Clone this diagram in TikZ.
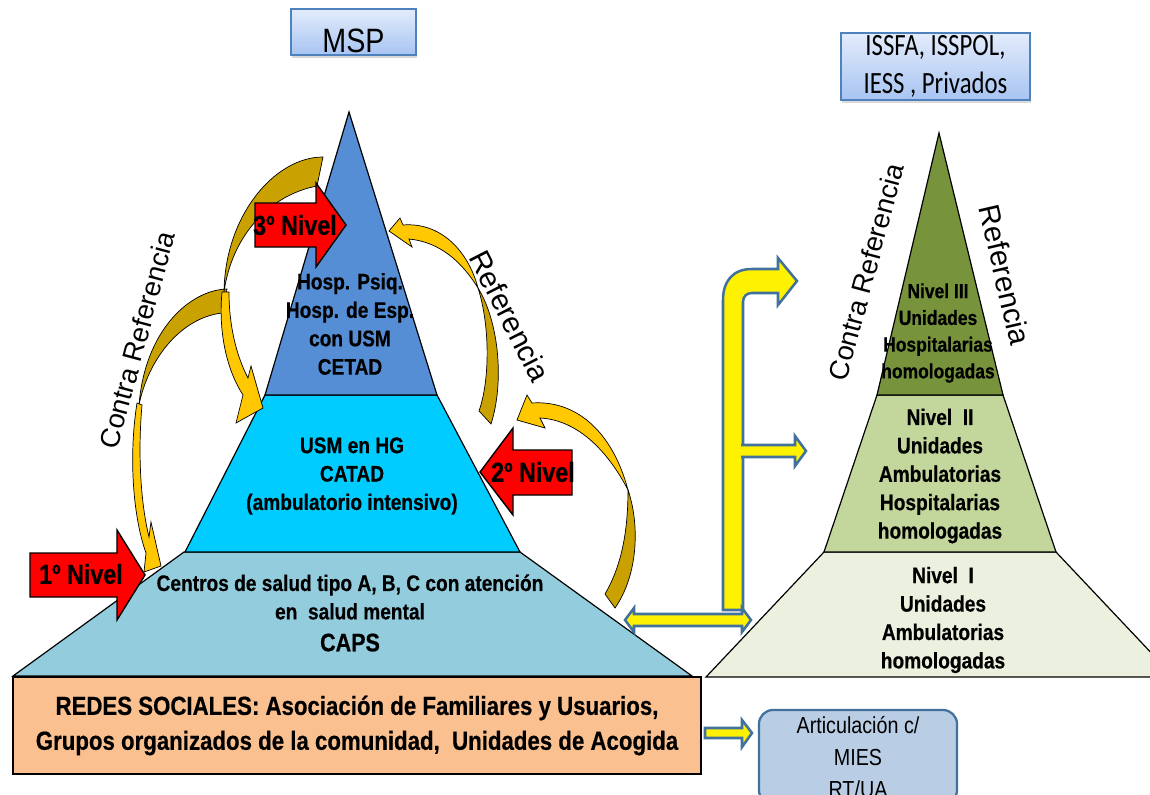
\documentclass[tikz,border=0pt]{standalone}
\usepackage{fontspec}
\setmainfont{Liberation Sans}
\newfontfamily\narrowsf[FakeStretch=0.85, BoldFeatures={FakeBold=0.5}]{Liberation Sans}
\newfontfamily\calibsf[FakeStretch=0.8]{Carlito}
\usetikzlibrary{shadows}
\definecolor{topblue}{HTML}{558ED5}
\definecolor{midcyan}{HTML}{00CCFF}
\definecolor{lowblue}{HTML}{93CDDD}
\definecolor{topgreen}{HTML}{77933C}
\definecolor{midgreen}{HTML}{C3D69B}
\definecolor{lowgreen}{HTML}{EBF1DE}
\definecolor{peach}{HTML}{FAC090}
\definecolor{artblue}{HTML}{B9CDE5}
\definecolor{edgeblue}{HTML}{4F81BD}
\definecolor{steel}{HTML}{41719C}
\definecolor{hdrtop}{HTML}{E3ECFB}
\definecolor{hdrbot}{HTML}{A7C4F2}
\definecolor{darkgold}{HTML}{C9A100}
\definecolor{brightgold}{HTML}{FFC800}

\begin{document}
\begin{tikzpicture}[x=0.025cm, y=-0.025cm,
  tier/.style={draw=black, line width=0.85pt, line join=miter},
  lvltxt/.style={font=\narrowsf\bfseries\fontsize{16}{20.2}\selectfont, align=center, inner sep=0pt},
  hdrbox/.style={draw=edgeblue, line width=1pt, top color=hdrtop, bottom color=hdrbot,
    drop shadow={opacity=0.3, shadow xshift=0.6pt, shadow yshift=-1.8pt}},
  redesbox/.style={draw=black, line width=1pt, fill=peach, align=center, inner sep=0pt,
    minimum width=17.2cm, minimum height=2.425cm,
    font=\narrowsf\bfseries\fontsize{18.6}{24.8}\selectfont},
  artbox/.style={draw=steel, line width=1.6pt, fill=artblue, rounded corners=0.35cm,
    align=center, inner sep=0pt, minimum width=4.95cm, minimum height=2.35cm,
    font=\narrowsf\fontsize{16.5}{22.7}\selectfont},
  redarrow/.style={draw=black, fill=red, line width=1pt, line join=miter},
  redtxt/.style={font=\narrowsf\bfseries\fontsize{19.5}{22}\selectfont, inner sep=0pt},
  yarrow/.style={draw=steel, fill=yellow, line width=1.8pt, line join=miter},
  backarc/.style={draw=black, line width=0.5pt, fill=darkgold},
  frontarc/.style={draw=black, line width=0.5pt, fill=brightgold},
  rotlbl/.style={font=\fontsize{19.5}{22}\selectfont, inner sep=0pt}]
\useasboundingbox (0,0) rectangle (1150,795);

% apexes
\coordinate (apexL) at (349,112);
\coordinate (apexR) at (939,133);

% MSP pyramid
\draw[tier, fill=lowblue] (13,676) -- (184,552) -- (520,552) -- (692,676) -- cycle;
\draw[tier, fill=midcyan] (185,552) -- (265,395) -- (437,395) -- (520,552) -- cycle;
\draw[tier, fill=topblue] (265,395) -- (apexL) -- (437,395) -- cycle;

% second pyramid
\draw[tier, fill=lowgreen] (706,677) -- (824,552) -- (1056,552) -- (1174,677) -- cycle;
\draw[tier, fill=midgreen] (824,552) -- (877,395) -- (1003,395) -- (1056,552) -- cycle;
\draw[tier, fill=topgreen] (877,395) -- (apexR) -- (1003,395) -- cycle;

% social networks
\node[redesbox] (redes) at (357,725.5) {REDES SOCIALES: Asociación de Familiares y Usuarios,\\Grupos organizados de la comunidad,\ \ Unidades de Acogida};

% yellow block arrows
\draw[yarrow] (723,610) -- (723,300) .. controls (723,281) and (733,269) .. (752,269)
  -- (778,269) -- (778,258) -- (797,281) -- (778,305) -- (778,293) -- (752,293)
  .. controls (747,293) and (743,296) .. (743,302) -- (743,610) -- cycle;
\filldraw[yarrow] (741,445) -- (795,445) -- (795,436) -- (806,451) -- (795,466) -- (795,457) -- (741,457);
\draw[yarrow] (625,620) -- (634,608) -- (634,614) -- (742,614) -- (742,608) -- (751,620)
  -- (742,632) -- (742,626) -- (634,626) -- (634,632) -- cycle;
\draw[yarrow] (705,728) -- (742,728) -- (742,720) -- (752,733) -- (742,747) -- (742,738) -- (705,738) -- cycle;

\node[artbox] (art) at (858,757) {Articulación c/\\MIES\\RT/UA};

% contra referencia (left)
\filldraw[backarc] (227,289) .. controls (190,290) and (145,330) .. (139,405)
  .. controls (148,360) and (180,318) .. (222,313) -- cycle;
\filldraw[frontarc] (137,403) .. controls (128,460) and (134,520) .. (146,553) -- (144,572)
  -- (161,566) -- (151,522) -- (149,537) .. controls (140,500) and (138,450) .. (142,405) -- cycle;
\filldraw[backarc] (323,157) .. controls (275,157) and (225,215) .. (224,292)
  .. controls (232,235) and (270,195) .. (317,186) -- cycle;
\filldraw[frontarc] (222,292) .. controls (218,335) and (228,372) .. (243,395) -- (236,423)
  -- (263,408) -- (251,366) -- (248,378) .. controls (236,355) and (229,325) .. (229,292) -- cycle;

% referencia (right)
\filldraw[backarc] (478,288) .. controls (498,320) and (505,380) .. (491,424) -- (479,411)
  .. controls (490,380) and (490,325) .. (478,288) -- cycle;
\filldraw[frontarc] (389,231) -- (400,218) -- (403,225) .. controls (440,222) and (468,250) .. (478,288)
  .. controls (462,262) and (440,242) .. (409,239) -- (412,247) -- cycle;
\filldraw[backarc] (628,490) .. controls (640,525) and (638,575) .. (615,608) -- (605,594)
  .. controls (622,565) and (628,530) .. (628,490) -- cycle;
\filldraw[frontarc] (517,420) -- (527,395) -- (532,403) .. controls (575,400) and (612,430) .. (628,490)
  .. controls (610,455) and (580,420) .. (540,418) -- (545,428) -- cycle;

% level arrows
\draw[redarrow] (255,203) -- (316,203) -- (316,183) -- (346,225) -- (316,267) -- (316,247) -- (255,247) -- cycle;
\draw[redarrow] (572,450) -- (513,450) -- (513,428) -- (480,472) -- (513,515) -- (513,495) -- (572,495) -- cycle;
\draw[redarrow] (30,553) -- (117,553) -- (117,530) -- (145,575) -- (117,620) -- (117,597) -- (30,597) -- cycle;
\node[redtxt] (n3) at (295,225) {3º Nivel};
\node[redtxt] (n2) at (533,472) {2º Nivel};
\node[redtxt] (n1) at (81,574) {1º Nivel};

% tier texts
\node[lvltxt] (t3) at (350,324) {Hosp. Psiq.\\Hosp. de Esp.\\con USM\\CETAD};
\node[lvltxt] (t2) at (352,476) {USM en HG\\CATAD\\(ambulatorio intensivo)};
\node[lvltxt] (t1) at (350,613) {Centros de salud tipo A, B, C con atención\\en\ \ salud mental\\[2.5pt]{\fontsize{18}{20}\selectfont CAPS}};
\node[lvltxt, font=\narrowsf\bfseries\fontsize{14.6}{19}\selectfont] (r3) at (938,333) {Nivel III\\Unidades\\Hospitalarias\\homologadas};
\node[lvltxt] (r2) at (940,476) {Nivel\ \ II\\Unidades\\Ambulatorias\\Hospitalarias\\homologadas};
\node[lvltxt] (r1) at (943,620) {Nivel\ \ I\\Unidades\\Ambulatorias\\homologadas};

% side labels
\node[rotlbl, rotate=75] (cref1) at (137,340) {Contra Referencia};
\node[rotlbl, rotate=-63, font=\fontsize{21}{24}\selectfont] (ref1) at (510,316) {Referencia};
\node[rotlbl, rotate=75] (cref2) at (866,272) {Contra Referencia};
\node[rotlbl, rotate=-77, font=\fontsize{21}{24}\selectfont] (ref2) at (1005,275) {Referencia};

% headers
\node[hdrbox, inner xsep=0pt, inner ysep=0pt, minimum width=3.125cm, text height=1.075cm, text depth=0.075cm,
  font=\narrowsf\fontsize{24}{27}\selectfont] (msp) at (353.5,32) {MSP};
\node[hdrbox, inner sep=0pt, minimum width=4.725cm, minimum height=1.675cm, align=center,
  font=\calibsf\fontsize{22}{27.6}\selectfont] (iss) at (935.5,66.5) {ISSFA, ISSPOL,\\IESS , Privados};
\end{tikzpicture}
\end{document}
